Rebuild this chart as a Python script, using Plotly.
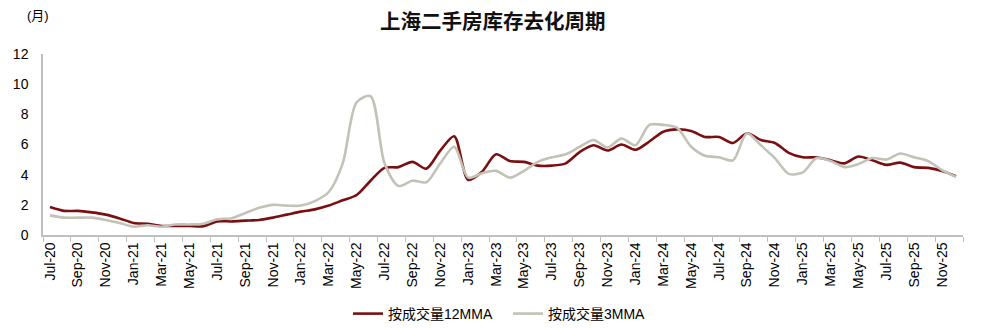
import plotly.graph_objects as go

months = [
    "Jul-20", "Aug-20", "Sep-20", "Oct-20", "Nov-20", "Dec-20",
    "Jan-21", "Feb-21", "Mar-21", "Apr-21", "May-21", "Jun-21",
    "Jul-21", "Aug-21", "Sep-21", "Oct-21", "Nov-21", "Dec-21",
    "Jan-22", "Feb-22", "Mar-22", "Apr-22", "May-22", "Jun-22",
    "Jul-22", "Aug-22", "Sep-22", "Oct-22", "Nov-22", "Dec-22",
    "Jan-23", "Feb-23", "Mar-23", "Apr-23", "May-23", "Jun-23",
    "Jul-23", "Aug-23", "Sep-23", "Oct-23", "Nov-23", "Dec-23",
    "Jan-24", "Feb-24", "Mar-24", "Apr-24", "May-24", "Jun-24",
    "Jul-24", "Aug-24", "Sep-24", "Oct-24", "Nov-24", "Dec-24",
    "Jan-25", "Feb-25", "Mar-25", "Apr-25", "May-25", "Jun-25",
    "Jul-25", "Aug-25", "Sep-25", "Oct-25", "Nov-25", "Dec-25",
]

mma12 = [
    1.85, 1.6, 1.6, 1.5, 1.35, 1.1,
    0.8, 0.75, 0.6, 0.6, 0.6, 0.58,
    0.9, 0.9, 0.95, 1.0, 1.15, 1.35,
    1.55, 1.7, 1.95, 2.3, 2.65, 3.6,
    4.45, 4.5, 4.85, 4.4, 5.6, 6.55,
    3.65, 4.2, 5.35, 4.9, 4.85, 4.6,
    4.6, 4.75, 5.5, 5.95, 5.6, 6.0,
    5.65, 6.2, 6.85, 7.0, 6.9, 6.5,
    6.5, 6.1, 6.75, 6.3, 6.1, 5.45,
    5.15, 5.15, 4.95, 4.75, 5.2, 4.95,
    4.65, 4.8, 4.5, 4.45, 4.25, 3.9,
]

mma3 = [
    1.3, 1.15, 1.15, 1.15, 1.0, 0.8,
    0.55, 0.65, 0.55, 0.7, 0.7, 0.75,
    1.05, 1.1, 1.45, 1.8, 2.0, 1.95,
    1.95, 2.25, 2.85, 4.75, 8.8, 9.2,
    4.75, 3.25, 3.6, 3.5, 4.75, 5.85,
    3.8, 4.1, 4.25, 3.8, 4.25, 4.85,
    5.15, 5.35, 5.85, 6.3, 5.8, 6.4,
    5.95, 7.3, 7.3, 7.1, 5.85, 5.25,
    5.15, 4.95, 6.75, 5.95, 5.1, 4.05,
    4.15, 5.1, 4.9, 4.5, 4.7, 5.1,
    5.0, 5.4, 5.15, 4.9, 4.3, 3.85,
]

y_ticks = [0, 2, 4, 6, 8, 10, 12]

name12 = "按成交量12MMA"
name3 = "按成交量3MMA"
title_text = "上海二手房库存去化周期"
unit_text = "(月)"

RED = "#7A0F12"
GRAY = "#C2C2B6"
AXIS = "#BFBFBF"
FONT = "Liberation Sans, Arial, Noto Sans CJK SC, sans-serif"

fig = go.Figure()
fig.add_trace(go.Scatter(
    x=months, y=mma12, name=name12, mode="lines",
    line=dict(color=RED, width=2.6, shape="spline", smoothing=0.8),
))
fig.add_trace(go.Scatter(
    x=months, y=mma3, name=name3, mode="lines",
    line=dict(color=GRAY, width=2.6, shape="spline", smoothing=0.8),
))

fig.update_layout(
    width=992, height=328,
    margin=dict(l=43, r=29, t=54, b=93, autoexpand=False),
    paper_bgcolor="white", plot_bgcolor="white",
    font=dict(family=FONT, color="#000000", size=12),
    showlegend=True,
    legend=dict(
        orientation="h", xref="container", yref="container",
        x=508 / 992, xanchor="center", y=1 - 314 / 328, yanchor="middle",
        font=dict(size=14, family=FONT, color="#000000"),
        itemwidth=30, traceorder="normal", entrywidth=115,
        bgcolor="rgba(0,0,0,0)",
    ),
    annotations=[
        dict(text="<b>" + title_text + "</b>", xref="paper", yref="paper",
             x=(493 - 43) / 920, y=(235 - 20) / 181, xanchor="center", yanchor="middle",
             showarrow=False, font=dict(size=20.5, family="Noto Sans CJK SC, sans-serif", color="#111111")),
        dict(text=unit_text, xref="paper", yref="paper",
             x=(38 - 43) / 920, y=(235 - 15) / 181, xanchor="center", yanchor="middle",
             showarrow=False, font=dict(size=13, family=FONT, color="#000000")),
    ],
)

fig.update_xaxes(
    type="category",
    range=[-0.5, len(months) - 0.5],
    tickmode="linear", tick0=0, dtick=2,
    tickson="boundaries",
    ticks="outside", ticklen=5, tickcolor=AXIS, tickwidth=1,
    tickangle=-90,
    tickfont=dict(size=14, family=FONT, color="#000000"),
    showline=True, linecolor=AXIS, linewidth=1.5,
    showgrid=False, zeroline=False, automargin=False,
)
fig.update_yaxes(
    range=[0, 12],
    tickmode="array", tickvals=y_ticks,
    ticks="", ticklabelstandoff=10,
    tickfont=dict(size=14, family=FONT, color="#000000"),
    showline=True, linecolor=AXIS, linewidth=1.5,
    showgrid=False, zeroline=False, automargin=False,
)

fig.write_html("out.html")
